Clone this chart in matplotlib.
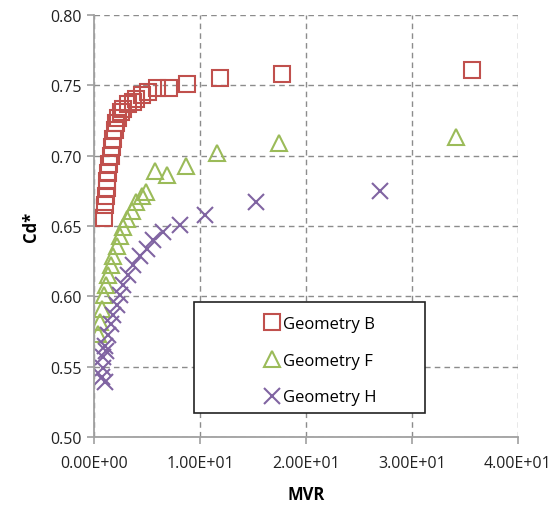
import matplotlib
matplotlib.use("Agg")
import matplotlib.pyplot as plt
from matplotlib.patches import Rectangle
from matplotlib.ticker import FuncFormatter, MultipleLocator

plt.rcParams['font.family'] = ['Open Sans', 'DejaVu Sans']

# Geometry B (squares)
b_mvr = [0.94, 1.04, 1.10, 1.20, 1.25, 1.35, 1.44, 1.57, 1.67, 1.82, 1.98, 2.10, 2.30,
         2.50, 2.76, 3.20, 3.65, 4.00, 4.50, 5.10, 5.90, 7.10, 8.80, 11.9, 17.7, 35.7]
b_cd = [0.656, 0.665, 0.671, 0.677, 0.682, 0.688, 0.694, 0.700, 0.706, 0.712, 0.718, 0.723, 0.727,
        0.731, 0.733, 0.737, 0.738, 0.740, 0.743, 0.745, 0.748, 0.748, 0.751, 0.755, 0.758, 0.761]

# Geometry F (triangles)
f_mvr = [0.40, 0.57, 0.72, 0.94, 1.13, 1.35, 1.57, 1.82, 2.14, 2.45, 2.76, 3.07, 3.55,
         4.00, 4.50, 4.90, 5.80, 6.90, 8.70, 11.6, 17.5, 34.2]
f_cd = [0.573, 0.582, 0.591, 0.601, 0.608, 0.615, 0.622, 0.629, 0.636, 0.643, 0.649, 0.655, 0.661,
        0.667, 0.671, 0.674, 0.689, 0.686, 0.693, 0.702, 0.709, 0.713]

# Geometry H (crosses)
h_mvr = [0.72, 0.82, 0.88, 1.04, 1.04, 1.12, 1.35, 1.57, 1.82, 2.14, 2.45, 2.76, 3.20,
         3.70, 4.30, 5.00, 5.60, 6.50, 8.10, 10.5, 15.3, 27.0]
h_cd = [0.543, 0.549, 0.557, 0.539, 0.565, 0.561, 0.5725, 0.580, 0.587, 0.594, 0.601, 0.608, 0.615,
        0.622, 0.629, 0.634, 0.640, 0.646, 0.651, 0.658, 0.667, 0.675]

labels = ['Geometry B', 'Geometry F', 'Geometry H']

fig = plt.figure(figsize=(5.58, 5.10), dpi=100)
ax = fig.add_axes([0.1685, 0.1412, 0.7595, 0.8274])

ax.plot(b_mvr, b_cd, linestyle='none', marker='s', markersize=11, mfc='none',
        mec='#C0504D', mew=1.5, label=labels[0])
ax.plot(f_mvr, f_cd, linestyle='none', marker='^', markersize=12, mfc='none',
        mec='#9BBB59', mew=1.5, label=labels[1])
ax.plot(h_mvr, h_cd, linestyle='none', marker='x', markersize=11, mfc='none',
        mec='#8064A2', mew=1.5, label=labels[2])

ax.set_xlim(0, 40)
ax.set_ylim(0.50, 0.80)
ax.xaxis.set_major_locator(MultipleLocator(10))
ax.yaxis.set_major_locator(MultipleLocator(0.05))
ax.xaxis.set_major_formatter(FuncFormatter(lambda v, p: f"{v:.2E}"))
ax.yaxis.set_major_formatter(FuncFormatter(lambda v, p: f"{v:.2f}"))

ax.grid(True, linestyle=(0, (4, 3)), color='#8c8c8c', linewidth=1.0)
ax.set_axisbelow(True)
for s in ['top', 'right']:
    ax.spines[s].set_visible(False)
for s in ['left', 'bottom']:
    ax.spines[s].set_color('#a0a0a0')
    ax.spines[s].set_linewidth(1.3)
ax.tick_params(axis='both', colors='#a0a0a0', length=5, width=1.2,
               labelcolor='#222222', labelsize=11.5)
ax.tick_params(axis='x', pad=8)

ax.set_xlabel('MVR', fontsize=12, fontweight='bold', labelpad=10)
ax.set_ylabel('Cd*', fontsize=12, fontweight='bold', labelpad=8)

# legend frame
ax.add_patch(Rectangle((0.236, 0.057), 0.544, 0.263, transform=ax.transAxes,
                       facecolor='white', edgecolor='#222222', linewidth=1.2, zorder=5))
ax.legend(loc='upper left', bbox_to_anchor=(0.38, 0.303), frameon=False,
          fontsize=12, handletextpad=0.1, handlelength=1.2, labelspacing=1.25,
          borderaxespad=0).set_zorder(6)

fig.savefig('out.png', dpi=100)
